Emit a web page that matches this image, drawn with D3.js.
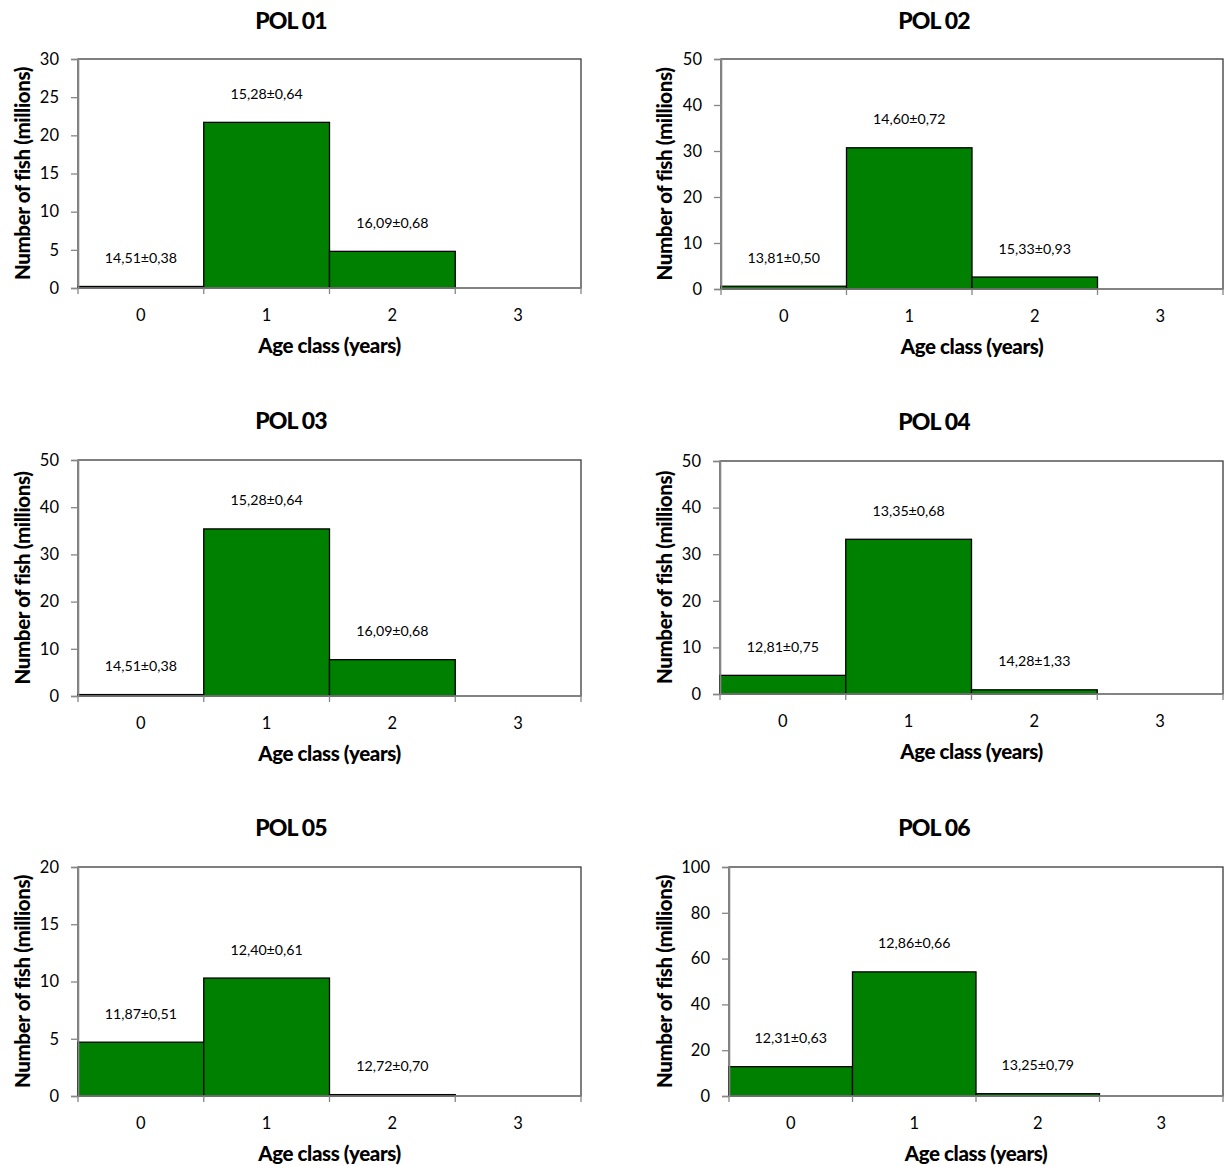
<!DOCTYPE html>
<html>
<head>
<meta charset="utf-8">
<script src="https://cdn.jsdelivr.net/npm/d3@7"></script>
<style>
  html, body { margin: 0; padding: 0; background: #fff; }
  svg { display: block; }
  text { font-family: Lato, "Open Sans", sans-serif; fill: #000; }
</style>
</head>
<body>
<svg id="chart" width="1227" height="1166"></svg>
<script>
// ---- data ----
const ageClasses = ["0", "1", "2", "3"];
const panelTitles = ["POL 01", "POL 02", "POL 03", "POL 04", "POL 05", "POL 06"];
const yMaxima = [30, 50, 50, 50, 20, 100];
const yTickSteps = [5, 10, 10, 10, 5, 20];

const pol01 = [0.2, 21.7, 4.8, 0];
const pol02 = [0.6, 30.7, 2.6, 0];
const pol03 = [0.3, 35.4, 7.7, 0];
const pol04 = [4.0, 33.2, 0.9, 0];
const pol05 = [4.7, 10.3, 0.12, 0];
const pol06 = [12.8, 54.2, 1.0, 0];

const pol01Labels = ["14,51±0,38", "15,28±0,64", "16,09±0,68"];
const pol02Labels = ["13,81±0,50", "14,60±0,72", "15,33±0,93"];
const pol03Labels = ["14,51±0,38", "15,28±0,64", "16,09±0,68"];
const pol04Labels = ["12,81±0,75", "13,35±0,68", "14,28±1,33"];
const pol05Labels = ["11,87±0,51", "12,40±0,61", "12,72±0,70"];
const pol06Labels = ["12,31±0,63", "12,86±0,66", "13,25±0,79"];

const xAxisTitle = "Age class (years)";
const yAxisTitle = "Number of fish (millions)";

const seriesValues = [pol01, pol02, pol03, pol04, pol05, pol06];
const seriesLabels = [pol01Labels, pol02Labels, pol03Labels, pol04Labels, pol05Labels, pol06Labels];

// ---- layout (plot areas) ----
const layout = [
  {left: 78,  right: 581,  top: 59,  bottom: 288, titleX: 291, titleY: 20,  yTitleX: 22},
  {left: 721, right: 1223, top: 59,  bottom: 289, titleX: 934, titleY: 20,  yTitleX: 664},
  {left: 78,  right: 581,  top: 460, bottom: 696, titleX: 291, titleY: 420, yTitleX: 22},
  {left: 720, right: 1223, top: 461, bottom: 694, titleX: 934, titleY: 421, yTitleX: 664},
  {left: 78,  right: 581,  top: 867, bottom: 1096, titleX: 291, titleY: 827, yTitleX: 22},
  {left: 729, right: 1223, top: 867, bottom: 1096, titleX: 934, titleY: 827, yTitleX: 664}
];

const svg = d3.select("#chart");
const axisGray = "#868686";

panelTitles.forEach((title, i) => {
  const L = layout[i];
  const g = svg.append("g");
  const x = d3.scaleBand().domain(ageClasses).range([L.left, L.right]).padding(0);
  const y = d3.scaleLinear().domain([0, yMaxima[i]]).range([L.bottom, L.top]);
  const ticks = d3.range(0, yMaxima[i] + yTickSteps[i] / 2, yTickSteps[i]);

  // plot area border
  g.append("rect")
    .attr("x", L.left).attr("y", L.top)
    .attr("width", L.right - L.left).attr("height", L.bottom - L.top)
    .attr("fill", "#fff").attr("stroke", "#3a3a3a").attr("stroke-width", 1.3);

  // bars
  g.selectAll("rect.bar")
    .data(seriesValues[i].map((v, k) => ({cls: ageClasses[k], v})))
    .enter().filter(d => d.v > 0)
    .append("rect")
    .attr("class", "bar")
    .attr("x", d => x(d.cls))
    .attr("y", d => y(d.v))
    .attr("width", x.bandwidth())
    .attr("height", d => y(0) - y(d.v))
    .attr("fill", "#008000")
    .attr("stroke", "#000")
    .attr("stroke-width", 1.3);

  // y axis
  const yAxis = d3.axisLeft(y).tickValues(ticks).tickSize(7).tickPadding(12).tickFormat(d3.format("d"));
  const ya = g.append("g").attr("transform", `translate(${L.left},0)`).call(yAxis);
  ya.select(".domain").attr("stroke", axisGray).attr("stroke-width", 1.6);
  ya.selectAll(".tick line").attr("stroke", axisGray).attr("stroke-width", 1.3);
  ya.selectAll(".tick text").style("font-size", "16.5px").style("font-family", "Lato, sans-serif").attr("fill", "#000");

  // x axis (ticks between categories)
  const xa = g.append("g").attr("transform", `translate(0,${L.bottom})`);
  xa.append("line").attr("x1", L.left).attr("x2", L.right).attr("y1", 0).attr("y2", 0)
    .attr("stroke", axisGray).attr("stroke-width", 1.6);
  const bounds = ageClasses.map(c => x(c)).concat([x(ageClasses[ageClasses.length - 1]) + x.bandwidth()]);
  xa.selectAll("line.tk").data(bounds).enter().append("line")
    .attr("class", "tk")
    .attr("x1", d => d).attr("x2", d => d).attr("y1", 0).attr("y2", 6)
    .attr("stroke", axisGray).attr("stroke-width", 1.3);
  xa.selectAll("text.cat").data(ageClasses).enter().append("text")
    .attr("class", "cat")
    .attr("x", d => x(d) + x.bandwidth() / 2)
    .attr("y", 27)
    .attr("text-anchor", "middle")
    .attr("dominant-baseline", "central")
    .style("font-size", "16.5px")
    .text(d => d);

  // bar value labels
  g.selectAll("text.lbl")
    .data(seriesLabels[i].map((t, k) => ({cls: ageClasses[k], v: seriesValues[i][k], t})))
    .enter().append("text")
    .attr("class", "lbl")
    .attr("x", d => x(d.cls) + x.bandwidth() / 2)
    .attr("y", d => y(d.v) - 29)
    .attr("text-anchor", "middle")
    .attr("dominant-baseline", "central")
    .style("font-size", "14.2px")
    .text(d => d.t);

  // titles
  g.append("text")
    .attr("x", L.titleX).attr("y", L.titleY)
    .attr("text-anchor", "middle").attr("dominant-baseline", "central")
    .style("font-size", "23px").style("font-weight", "900").style("letter-spacing", "-0.8px")
    .text(title);

  g.append("text")
    .attr("x", (L.left + L.right) / 2).attr("y", L.bottom + 57)
    .attr("text-anchor", "middle").attr("dominant-baseline", "central")
    .style("font-size", "20.5px").style("font-weight", "900").style("letter-spacing", "-0.4px")
    .text(xAxisTitle);

  g.append("text")
    .attr("transform", `translate(${L.yTitleX},${(L.top + L.bottom) / 2}) rotate(-90)`)
    .attr("text-anchor", "middle").attr("dominant-baseline", "central")
    .style("font-size", "20.5px").style("font-weight", "900").style("letter-spacing", "-0.4px")
    .text(yAxisTitle);
});
</script>
</body>
</html>
